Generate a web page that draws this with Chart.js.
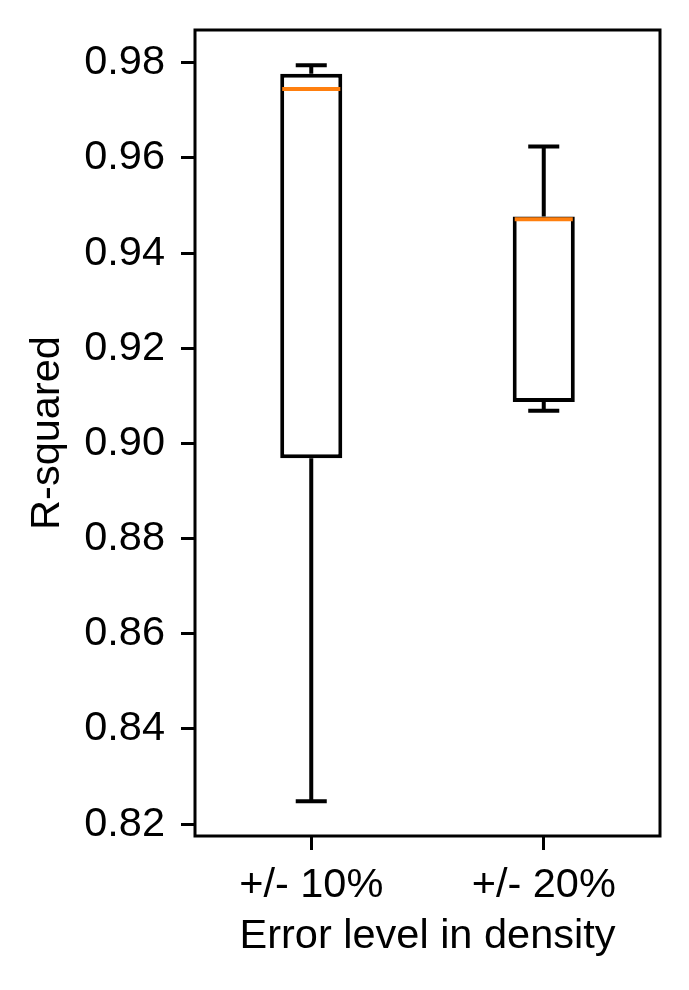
<!DOCTYPE html>
<html lang="en">
	<head>
		<meta charset="UTF-8" />
		<title>R-squared box plot</title>
		<script src="https://cdn.jsdelivr.net/npm/chart.js@4.4.1/dist/chart.umd.min.js"></script>
		<style>
			html, body { margin: 0; padding: 0; background: #fff; }
			#wrap { width: 689px; height: 990px; }
		</style>
	</head>
	<body>
		<div id="wrap"><canvas id="boxChart" width="689" height="990"></canvas></div>
		<script>
			// values
			const categories = ["+/- 10%", "+/- 20%"];
			const whiskerLow = [0.8248, 0.9069];
			const q1 = [0.8969, 0.9087];
			const median = [0.9745, 0.9471];
			const q3 = [0.9777, 0.9477];
			const whiskerHigh = [0.9795, 0.9624];
			const yTicks = [0.82, 0.84, 0.86, 0.88, 0.9, 0.92, 0.94, 0.96, 0.98];

			const FONT = "'Liberation Sans', Arial, sans-serif";
			const FS = 41.5;
			Chart.defaults.color = "#000";
			Chart.defaults.font.family = FONT;

			// whiskers, caps and medians on top of the floating-bar boxes
			const boxExtras = {
				id: "boxExtras",
				afterDatasetsDraw(chart) {
					const ctx = chart.ctx;
					const xs = chart.scales.x;
					const ys = chart.scales.y;
					const bars = chart.getDatasetMeta(0).data;
					ctx.save();
					categories.forEach((c, i) => {
						const cx = xs.getPixelForValue(i);
						const half = bars[i].width / 2 - 2;
						const capHalf = half / 2 + 1;
						ctx.strokeStyle = "#000";
						ctx.lineWidth = 4;
						ctx.beginPath();
						ctx.moveTo(cx, ys.getPixelForValue(q3[i]));
						ctx.lineTo(cx, ys.getPixelForValue(whiskerHigh[i]));
						ctx.moveTo(cx, ys.getPixelForValue(q1[i]));
						ctx.lineTo(cx, ys.getPixelForValue(whiskerLow[i]));
						ctx.moveTo(cx - capHalf, ys.getPixelForValue(whiskerHigh[i]));
						ctx.lineTo(cx + capHalf, ys.getPixelForValue(whiskerHigh[i]));
						ctx.moveTo(cx - capHalf, ys.getPixelForValue(whiskerLow[i]));
						ctx.lineTo(cx + capHalf, ys.getPixelForValue(whiskerLow[i]));
						ctx.stroke();
						ctx.strokeStyle = "#ff7f0e";
						ctx.beginPath();
						ctx.moveTo(cx - half, ys.getPixelForValue(median[i]));
						ctx.lineTo(cx + half, ys.getPixelForValue(median[i]));
						ctx.stroke();
					});
					ctx.restore();
				},
				afterDraw(chart) {
					const { left, top, right, bottom } = chart.chartArea;
					const ctx = chart.ctx;
					ctx.save();
					ctx.strokeStyle = "#000";
					ctx.lineWidth = 3;
					ctx.strokeRect(left, top, right - left, bottom - top);
					ctx.restore();
				},
			};

			new Chart(document.getElementById("boxChart"), {
				type: "bar",
				data: {
					labels: categories,
					datasets: [
						{
							data: categories.map((c, i) => [q1[i], q3[i]]),
							backgroundColor: "#fff",
							borderColor: "#000",
							borderWidth: 4,
							borderSkipped: false,
							barPercentage: 0.267,
							categoryPercentage: 1,
						},
					],
				},
				options: {
					responsive: false,
					animation: false,
					layout: { padding: { top: 30, right: 29, left: 0, bottom: 0 } },
					plugins: {
						legend: { display: false },
						tooltip: { enabled: false },
					},
					scales: {
						x: {
							offset: true,
							border: { display: false },
							grid: {
								offset: false,
								drawOnChartArea: false,
								tickLength: 14,
								tickWidth: 3,
								tickColor: "#000",
							},
							ticks: { font: { size: FS }, padding: 11, maxRotation: 0 },
							title: {
								display: true,
								text: "Error level in density",
								font: { size: FS },
								padding: { top: 0, bottom: 29 },
							},
							afterFit(scale) {
								scale.height = 154;
								scale.paddingLeft = 0;
								scale.paddingRight = 0;
							},
						},
						y: {
							min: 0.8175,
							max: 0.9869,
							border: { display: false },
							grid: {
								drawOnChartArea: false,
								tickLength: 14,
								tickWidth: 3,
								tickColor: "#000",
							},
							afterBuildTicks(scale) {
								scale.ticks = yTicks.map((v) => ({ value: v }));
							},
							ticks: {
								font: { size: FS },
								padding: 16,
								callback: (v) => Number(v).toFixed(2),
							},
							title: {
								display: true,
								text: "R-squared",
								font: { size: FS },
								padding: { top: 23, bottom: 0 },
							},
							afterFit(scale) {
								scale.width = 195;
								scale.paddingTop = 0;
								scale.paddingBottom = 0;
							},
						},
					},
				},
				plugins: [boxExtras],
			});
		</script>
	</body>
</html>
